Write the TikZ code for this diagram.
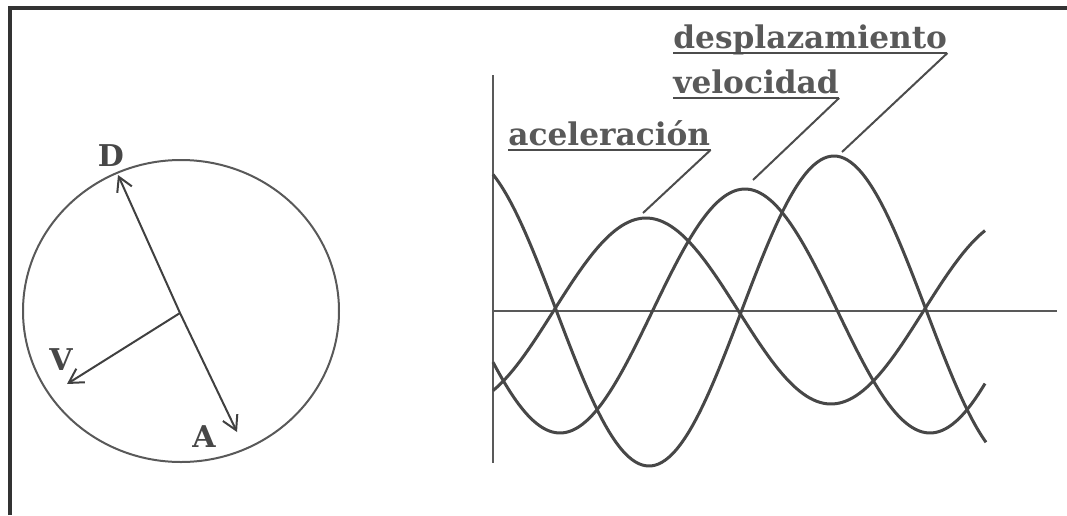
\documentclass[tikz,border=0pt]{standalone}
\usepackage{fontspec}
\setmainfont{DejaVu Serif}
\usetikzlibrary{arrows.meta}

\tikzset{
  marco/.style={line width=2pt, draw=black!80},
  eje/.style={line width=1.3pt, draw=black!65},
  curva/.style={line width=1.5pt, draw=black!72},
  flecha/.style={line width=1pt, draw=black!75, -{Straight Barb[length=7pt,width=8pt]}},
  rotulo/.style={inner sep=0pt, text=black!72, font=\fontsize{15}{17}\selectfont\bfseries},
  etiqueta/.style={anchor=base west, inner sep=0pt, text=black!65, font=\fontsize{15.6}{18}\selectfont\bfseries},
  subraya/.style={line width=1pt, draw=black!70}
}

\begin{document}
\begin{tikzpicture}[x=0.5pt,y=-0.5pt]
\useasboundingbox (0,0) rectangle (1067,515);

% ===== Marco =====
\draw[marco] (10,515) -- (10,8) -- (1067,8);

% ===== Circulo =====
\draw[line width=1pt, draw=black!65] (181,311) ellipse [x radius=158, y radius=151];

\coordinate (O) at (180,313);
\coordinate (D) at (118,175);
\coordinate (A) at (237,432);
\coordinate (V) at (67,384);

\draw[flecha] (O) -- (D);
\draw[flecha] (O) -- (A);
\draw[flecha] (O) -- (V);

\node[rotulo] (lblD) at (111,156) {D};
\node[rotulo] (lblA) at (204,437) {A};
\node[rotulo] (lblV) at (61,360) {V};

% ===== Ejes =====
\coordinate (ejeTop) at (493,75);
\coordinate (ejeBot) at (493,463);
\coordinate (ejeIzq) at (493,311);
\coordinate (ejeDer) at (1057,311);
\draw[eje] (ejeTop) -- (ejeBot);
\draw[eje] (ejeIzq) -- (ejeDer);

% ===== Curvas =====
% desplazamiento
\draw[curva] plot[domain=493:986, samples=150, smooth] (\x,{311-155*cos(0.97297*(\x-464))});
% velocidad
\draw[curva] plot[domain=493:985, samples=150, smooth] (\x,{311-122*cos(0.97297*(\x-745))});
% aceleracion
\draw[curva] plot[domain=493:985, samples=150, smooth] (\x,{311-93*cos(0.97297*(\x-646))});

% ===== Rotulos =====
\node[etiqueta] (lblAcel) at (508,145) {aceleración};
\node[etiqueta] (lblVel) at (673,93) {velocidad};
\node[etiqueta] (lblDesp) at (673,48) {desplazamiento};

\foreach \n in {lblAcel,lblVel,lblDesp} {
  \draw[subraya] ([yshift=-2.5pt]\n.base west) -- ([yshift=-2.5pt]\n.base east);
}

\coordinate (pAcel) at (643,213);
\coordinate (pVel) at (753,180);
\coordinate (pDesp) at (842,152);

\draw[subraya] ([yshift=-2.5pt]lblAcel.base east) -- (pAcel);
\draw[subraya] ([yshift=-2.5pt]lblVel.base east) -- (pVel);
\draw[subraya] ([yshift=-2.5pt]lblDesp.base east) -- (pDesp);

\end{tikzpicture}
\end{document}
